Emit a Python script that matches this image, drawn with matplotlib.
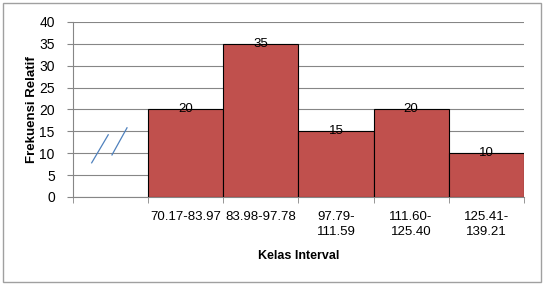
import matplotlib.pyplot as plt
from matplotlib.patches import Rectangle

plt.rcParams['font.family'] = ['Liberation Sans', 'DejaVu Sans']

kelas = ['', '70.17-83.97', '83.98-97.78', '97.79-\n111.59', '111.60-\n125.40', '125.41-\n139.21']
frekuensi = [None, 20, 35, 15, 20, 10]

# tanda patah sumbu (dua garis miring di kategori kosong)
patah_x = [[-0.25, -0.03], [0.02, 0.22]]
patah_y = [[7.8, 14.2], [9.6, 15.8]]

fig = plt.figure(figsize=(5.44, 2.85), dpi=100)
ax = fig.add_axes([0.134, 0.309, 0.829, 0.614])

pos = [i for i, v in enumerate(frekuensi) if v is not None]
nilai = [v for v in frekuensi if v is not None]
bars = ax.bar(pos, nilai, width=1.0, color='#c0504d', edgecolor='black', linewidth=0.8, zorder=3)
for p, v in zip(pos, nilai):
    ax.text(p, v, str(v), ha='center', va='center', fontsize=9.5, zorder=4)

for xs, ys in zip(patah_x, patah_y):
    ax.plot(xs, ys, color='#4f81bd', linewidth=0.9, zorder=4)

ax.set_xlim(-0.5, len(kelas) - 0.5)
ax.set_ylim(0, 40)
ax.set_yticks(range(0, 41, 5))
ax.set_xticks(range(len(kelas)))
ax.set_xticklabels(kelas, fontsize=9.5, linespacing=1.35)
ax.set_xticks([i - 0.5 for i in range(len(kelas) + 1)], minor=True)
ax.tick_params(axis='x', which='major', length=0, pad=10)
ax.tick_params(axis='x', which='minor', length=4, color='#868686')
ax.tick_params(axis='y', length=4, color='#868686', labelsize=10, pad=9)
ax.grid(axis='y', color='#868686', linewidth=0.8, zorder=0)
ax.set_axisbelow(True)
for s in ['top', 'right']:
    ax.spines[s].set_visible(False)
for s in ['left', 'bottom']:
    ax.spines[s].set_color('#868686')

ax.set_ylabel('Frekuensi Relatif', fontsize=9.5, fontweight='bold')
ax.yaxis.set_label_coords(-0.077, 0.5)
ax.set_xlabel('Kelas Interval', fontsize=9, fontweight='bold', labelpad=9)

fig.patches.append(Rectangle((0.006, 0.01), 0.988, 0.98, transform=fig.transFigure,
                             fill=False, edgecolor='#a0a0a0', linewidth=1))

fig.savefig('out.png', dpi=100)
